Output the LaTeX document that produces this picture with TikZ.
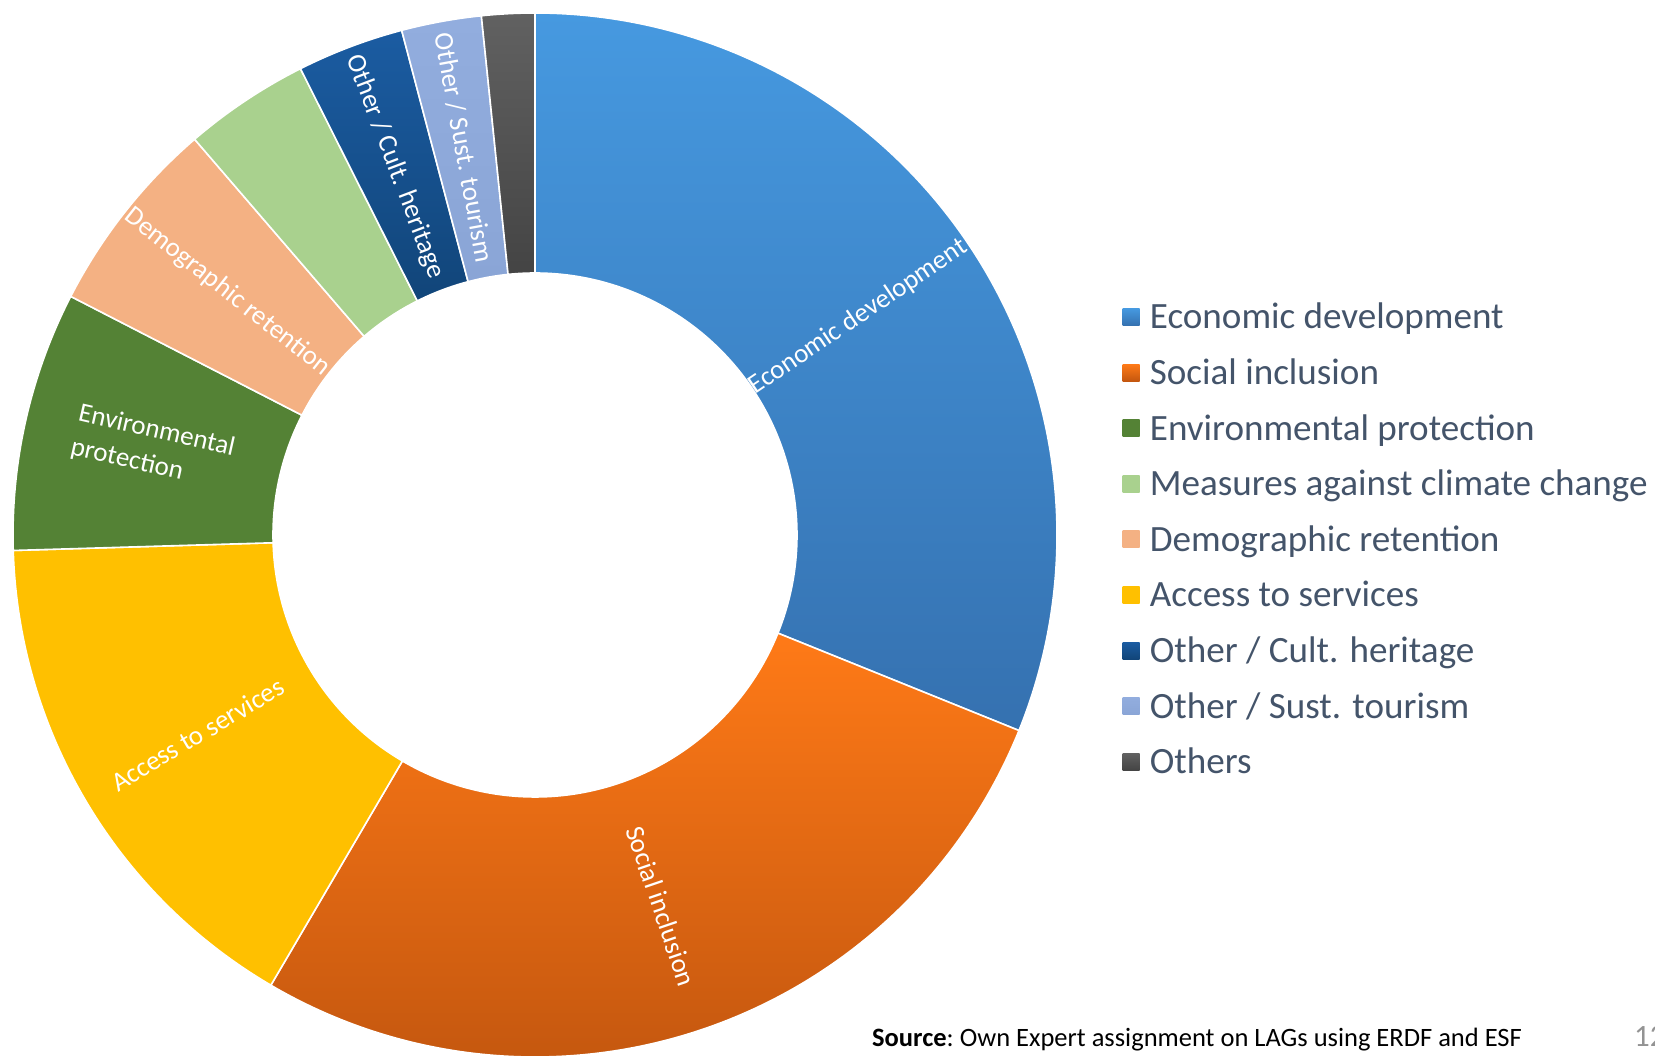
\documentclass[tikz,border=0pt]{standalone}
\usepackage{fontspec}
\setmainfont{Carlito}
\usetikzlibrary{positioning}

\definecolor{econA}{HTML}{4699E0}
\definecolor{econB}{HTML}{3571B0}
\definecolor{socA}{HTML}{FF7A17}
\definecolor{socB}{HTML}{C4570F}
\definecolor{access}{HTML}{FFC000}
\definecolor{envir}{HTML}{548235}
\definecolor{demog}{HTML}{F4B183}
\definecolor{climate}{HTML}{A9D18E}
\definecolor{cultA}{HTML}{1B5CA2}
\definecolor{cultB}{HTML}{114579}
\definecolor{sustA}{HTML}{92ADDE}
\definecolor{sustB}{HTML}{8AA5D6}
\definecolor{othA}{HTML}{616161}
\definecolor{othB}{HTML}{444444}
\definecolor{keygrey}{HTML}{44546A}

\begin{document}
\begin{tikzpicture}[x=1pt,y=1pt]
\tikzstyle{slice}=[draw=white,line width=1.6pt]
\tikzstyle{inlabel}=[text=white,font=\fontsize{27}{35}\selectfont,inner sep=0pt]
\tikzstyle{key}=[minimum size=17pt,inner sep=0pt]
\tikzstyle{keytext}=[text=keygrey,font=\fontsize{37.1}{44}\selectfont,inner sep=0pt,text height=29pt,text depth=5pt]

\useasboundingbox (-535,-522) rectangle (1120,535);

% the ring, clockwise from the top
\foreach \from/\to/\ca/\cb in {90/-22/econA/econB, -22/-120.4/socA/socB,
  -120.4/-178.3/access/access, -178.3/-207.2/envir/envir,
  -207.2/-229.3/demog/demog, -229.3/-243.3/climate/climate,
  -243.3/-255.2/cultA/cultB, -255.2/-264.1/sustA/sustB, -264.1/-270/othA/othB}
  \path[slice,top color=\ca,bottom color=\cb] (\from:522)
    arc[start angle=\from,end angle=\to,radius=522] -- (\to:262)
    arc[start angle=\to,end angle=\from,radius=262] -- cycle;

% labels in the ring
\node[inlabel,rotate=34] (econlbl) at (34:390) {Economic development};
\node[inlabel,rotate=-71.2] (soclbl) at (-71.2:392) {Social inclusion};
\node[inlabel,rotate=30.6] (acclbl) at (-149.4:392) {Access to services};
\node[inlabel,rotate=-12.8,align=left] (envlbl) at (167.2:392) {Environmental\\protection};
\node[inlabel,rotate=-38.3] (demlbl) at (141.7:392) {Demographic retention};
\node[inlabel,rotate=-69.2] (cultlbl) at (110.8:394) {Other / Cult. heritage};
\node[inlabel,rotate=-79.6] (sustlbl) at (100.4:394) {Other / Sust. tourism};

% legend
\foreach \name/\ca/\cb [count=\i from 0] in {Economic development/econA/econB,
  Social inclusion/socA/socB, Environmental protection/envir/envir,
  Measures against climate change/climate/climate,
  Demographic retention/demog/demog, Access to services/access/access,
  {Other / Cult. heritage}/cultA/cultB, {Other / Sust. tourism}/sustA/sustB,
  Others/othA/othB}
{
  \node[key,top color=\ca,bottom color=\cb] (k\i) at (596,{218-55.6*\i}) {};
  \node[keytext,right=10pt of k\i] (t\i) {\name};
}

% source line and page number
\node[anchor=base west,inner sep=0pt,font=\fontsize{26.5}{32}\selectfont] (src) at (337,-511)
  {\textbf{Source}:~Own Expert assignment on LAGs using ERDF and ESF};
\node[anchor=base west,inner sep=0pt,text=gray!85,font=\fontsize{31}{36}\selectfont] (pg) at (1099,-511) {12};
\end{tikzpicture}
\end{document}
